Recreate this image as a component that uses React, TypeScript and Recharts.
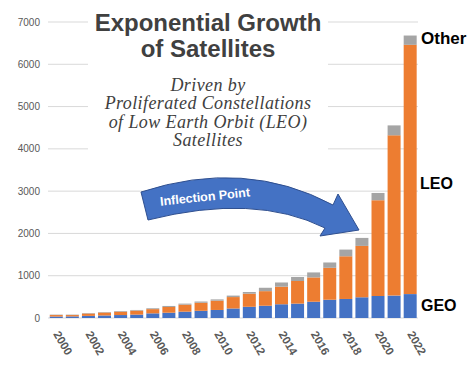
import React from 'react';
import { BarChart, Bar, XAxis, YAxis, CartesianGrid, Customized } from 'recharts';

const years = ['2000','2001','2002','2003','2004','2005','2006','2007','2008','2009','2010','2011','2012','2013','2014','2015','2016','2017','2018','2019','2020','2021','2022'];
const geoValues = [35, 38, 50, 60, 70, 80, 110, 125, 150, 170, 190, 225, 265, 290, 325, 340, 385, 432, 450, 490, 520, 530, 565];
const leoValues = [35, 32, 56, 70, 80, 95, 100, 135, 165, 190, 220, 270, 310, 345, 415, 535, 575, 755, 1010, 1215, 2265, 3790, 5895];
const otherValues = [10, 10, 12, 12, 15, 15, 20, 25, 25, 30, 30, 35, 40, 80, 100, 95, 118, 126, 158, 189, 172, 235, 220];
const yTicks = [0, 1000, 2000, 3000, 4000, 5000, 6000, 7000];
const titleLines = ['Exponential Growth', 'of Satellites'];
const subtitleLines = ['Driven by', 'Proliferated Constellations', 'of Low Earth Orbit (LEO)', 'Satellites'];

const data = years.map((year, i) => ({ year, GEO: geoValues[i], LEO: leoValues[i], Other: otherValues[i] }));

const SANS = '"Liberation Sans", Arial, sans-serif';
const SERIF = '"Liberation Serif", "Times New Roman", serif';

const RotTick = (props: any) => {
  const { x, y, payload } = props;
  return (
    <g transform={`translate(${x - 3},${y + 16})`}>
      <text transform="rotate(60)" textAnchor="start" fontSize={11.5} fontWeight="bold" fill="#595959" fontFamily={SANS}>
        {payload.value}
      </text>
    </g>
  );
};

const Overlay = () => (
  <g>
    <rect x={88} y={0} width={240} height={160} fill="#ffffff" />
    {titleLines.map((t, i) => (
      <text key={t} x={208} y={31 + i * 26} textAnchor="middle" fontSize={24} fontWeight="bold" fill="#404040" fontFamily={SANS}>{t}</text>
    ))}
    {subtitleLines.map((t, i) => (
      <text key={t} x={208} y={91 + i * 18.3} textAnchor="middle" fontSize={18} fontStyle="italic" letterSpacing={0.4} fill="#404040" fontFamily={SERIF}>{t}</text>
    ))}
    <path d="M141,192 Q245,158 333,205 L338,194 L359,230 L320,236 L325,228 Q255,193 148,220 Z" fill="#4472C4" stroke="#2F4F8F" strokeWidth={1} />
    <text x={205} y={201} textAnchor="middle" fontSize={12.5} fontWeight="bold" fill="#ffffff" fontFamily={SANS} transform="rotate(-6,205,197)">Inflection Point</text>
    <text x={421} y={44} fontSize={17} fontWeight="bold" fill="#000000" fontFamily={SANS}>Other</text>
    <text x={420} y={189} fontSize={16} fontWeight="bold" fill="#000000" fontFamily={SANS}>LEO</text>
    <text x={421} y={311} fontSize={16} fontWeight="bold" fill="#000000" fontFamily={SANS}>GEO</text>
  </g>
);

export default function App() {
  return (
    <div style={{ position: 'absolute', left: 0, top: 0, width: 474, height: 377, background: '#ffffff' }}>
      <BarChart width={474} height={377} data={data} margin={{ top: 22, right: 56, left: 0, bottom: 0 }} barCategoryGap="11%">
        <CartesianGrid vertical={false} stroke="#d9d9d9" />
        <XAxis dataKey="year" interval={1} tickLine={false} axisLine={false} tickSize={0} tickMargin={0} height={59} tick={<RotTick />} />
        <YAxis domain={[0, 7000]} ticks={yTicks} width={48} axisLine={false} tickLine={false} tick={{ fontSize: 10, fill: '#595959', fontFamily: SANS }} />
        <Bar dataKey="GEO" stackId="a" fill="#4472C4" isAnimationActive={false} />
        <Bar dataKey="LEO" stackId="a" fill="#ED7D31" isAnimationActive={false} />
        <Bar dataKey="Other" stackId="a" fill="#A5A5A5" isAnimationActive={false} />
        <Customized component={Overlay} />
      </BarChart>
    </div>
  );
}
